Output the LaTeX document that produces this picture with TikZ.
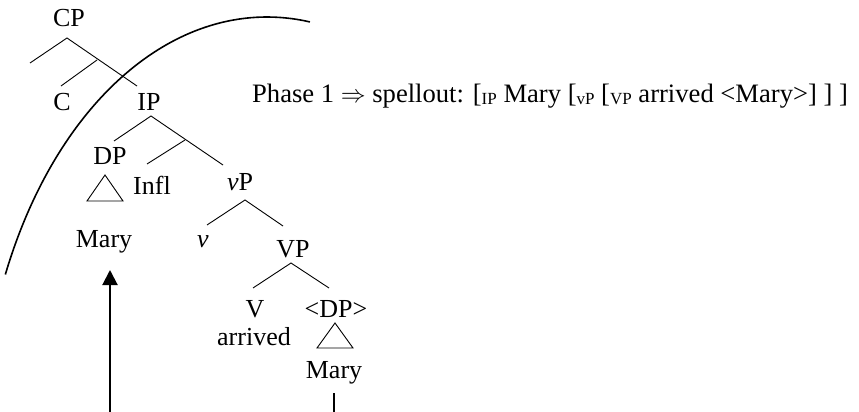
\documentclass[tikz,border=0pt]{standalone}
\usepackage{fontspec}
\setmainfont{Liberation Serif}
\usetikzlibrary{arrows.meta}
\newcommand\lblsub[1]{\raisebox{-2pt}{\fontsize{17}{17}\selectfont #1}}
\begin{document}
\begin{tikzpicture}[x=1pt,y=1pt,
  lbl/.style={anchor=base,inner sep=0pt,font=\fontsize{26}{30}\selectfont},
  branch/.style={line width=0.9pt},
  phaseline/.style={line width=1.6pt},
  tri/.style={line width=0.9pt,line join=miter}]
\useasboundingbox (0,0) rectangle (859,-412);

% labels of the tree
\node[lbl] (cp)    at (69,-27)  {CP};
\node[lbl] (c)     at (62,-110) {C};
\node[lbl] (ip)    at (149,-110) {IP};
\node[lbl] (dp)    at (110,-164) {DP};
\node[lbl] (infl)  at (152,-194) {Infl};
\node[lbl] (mary1) at (104,-247) {Mary};
\node[lbl] (vp)    at (240,-190) {\textit{v}P};
\node[lbl] (v)     at (203,-247) {\textit{v}};
\node[lbl] (bigvp) at (293,-257) {VP};
\node[lbl] (bigv)  at (255,-317) {V};
\node[lbl] (arr)   at (254,-345) {arrived};
\node[lbl] (tdp)   at (336,-317) {<DP>};
\node[lbl] (mary2) at (334,-378) {Mary};

% spellout of the first phase
\node[lbl,anchor=base west,font=\fontsize{26.6}{30}\selectfont] (phase) at (252,-102)
  {Phase 1 $\Rightarrow$ spellout: [\lblsub{IP} Mary [\lblsub{vP} [\lblsub{VP} arrived <Mary>] ] ]};

% branching points
\coordinate (cpTop) at (67,-38);
\coordinate (cpL)   at (30,-63);
\coordinate (cpR)   at (137,-86);
\coordinate (cbar)  at (97,-60);
\coordinate (cDn)   at (61,-86);
\coordinate (ipTop) at (151,-116);
\coordinate (ipL)   at (114,-141);
\coordinate (ipR)   at (223,-165);
\coordinate (ibar)  at (185,-140);
\coordinate (iDn)   at (147,-164);
\coordinate (vpTop) at (245,-200);
\coordinate (vpL)   at (207,-225);
\coordinate (vpR)   at (283,-226);
\coordinate (VpTop) at (291,-263);
\coordinate (VpL)   at (253,-288);
\coordinate (VpR)   at (329,-288);

\draw[branch] (cpL) -- (cpTop) -- (cpR);
\draw[branch] (cbar) -- (cDn);
\draw[branch] (ipL) -- (ipTop) -- (ipR);
\draw[branch] (ibar) -- (iDn);
\draw[branch] (vpL) -- (vpTop) -- (vpR);
\draw[branch] (VpL) -- (VpTop) -- (VpR);

% triangles over the DPs
\draw[tri] (105,-175) -- (87,-201) -- (123,-201) -- cycle;
\draw[tri] (335,-323) -- (317,-348) -- (353,-348) -- cycle;

% phase boundary
\draw[phaseline] (267,-454) ++(155.75:287 and 437)
  arc[start angle=155.75, end angle=81.4, x radius=287, y radius=437];

% movement arrow and its start
\coordinate (arrFoot) at (110,-412);
\coordinate (arrTip)  at (110,-270);
\draw[line width=2pt,-{Triangle[length=15pt,width=15pt]}] (arrFoot) -- (arrTip);
\coordinate (stemTop) at (334,-393);
\coordinate (stemBot) at (334,-412);
\draw[line width=1.3pt] (stemTop) -- (stemBot);
\end{tikzpicture}
\end{document}
